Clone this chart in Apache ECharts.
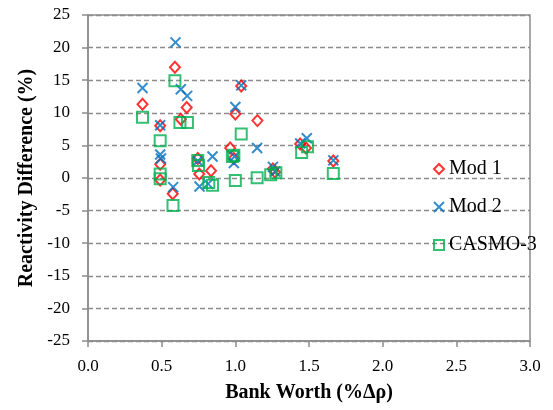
<!DOCTYPE html>
<html>
<head>
<meta charset="utf-8">
<script src="https://cdn.jsdelivr.net/npm/echarts@6/dist/echarts.min.js"></script>
<style>
  html, body { margin: 0; padding: 0; background: #fff; }
  #chart { width: 553px; height: 410px; }
</style>
</head>
<body>
<div id="chart"></div>
<script>
// Reactivity difference versus bank worth, three calculation methods
const seriesNames = ['Mod 1', 'Mod 2', 'CASMO-3'];

// [bank worth (%Δρ), reactivity difference (%)]
const mod1Points = [
  [0.37, 11.3], [0.49, 8.0], [0.49, 2.1], [0.49, -0.3], [0.575, -2.4],
  [0.59, 17.0], [0.63, 9.0], [0.67, 10.8], [0.745, 3.0], [0.755, 0.6],
  [0.835, 1.1], [0.965, 4.6], [0.99, 3.0], [1.0, 9.8], [1.04, 14.1],
  [1.15, 8.8], [1.255, 1.4], [1.27, 0.9], [1.44, 5.2], [1.48, 4.6],
  [1.665, 2.6]
];
const mod2Points = [
  [0.37, 13.8], [0.49, 8.1], [0.49, 3.6], [0.495, 3.0], [0.578, -1.4],
  [0.594, 20.8], [0.63, 13.6], [0.673, 12.6], [0.745, 2.6], [0.757, -1.3],
  [0.815, -0.9], [0.845, 3.3], [0.99, 2.3], [0.995, 3.3], [1.0, 10.9],
  [1.04, 14.2], [1.148, 4.6], [1.255, 1.7], [1.27, 1.0], [1.44, 5.3],
  [1.485, 6.1], [1.665, 2.7]
];
const casmoPoints = [
  [0.37, 9.3], [0.49, 5.7], [0.49, 0.6], [0.49, -0.1], [0.577, -4.2],
  [0.59, 14.9], [0.624, 8.5], [0.675, 8.5], [0.745, 2.7], [0.75, 1.9],
  [0.82, -0.7], [0.845, -1.1], [0.98, 3.3], [0.99, 3.5], [1.0, -0.4],
  [1.04, 6.75], [1.148, 0.05], [1.24, 0.5], [1.275, 0.8], [1.45, 3.9],
  [1.49, 4.8], [1.665, 0.7]
];

const xTicks = { min: 0, max: 3, step: 0.5 };
const yTicks = { min: -25, max: 25, step: 5 };

const serif = "'Liberation Serif', 'Times New Roman', serif";
const frameGray = '#8c8c8c';
const crossPath = 'path://M0,0L10,10M10,0L0,10';

const chart = echarts.init(document.getElementById('chart'), null, { renderer: 'canvas' });

chart.setOption({
  animation: false,
  backgroundColor: '#ffffff',
  grid: {
    left: 88, right: 23, top: 15, bottom: 69,
    show: true, borderColor: frameGray, borderWidth: 1.5, backgroundColor: 'transparent'
  },
  legend: {
    orient: 'vertical',
    left: 428, top: 154,
    itemWidth: 10, itemHeight: 10, itemGap: 18,
    textStyle: { fontFamily: serif, fontSize: 20, color: '#000' },
    data: seriesNames
  },
  xAxis: {
    type: 'value',
    min: xTicks.min, max: xTicks.max, interval: xTicks.step,
    name: 'Bank Worth (%Δρ)',
    nameLocation: 'middle', nameGap: 42,
    nameTextStyle: { fontFamily: serif, fontSize: 20, fontWeight: 'bold', color: '#000' },
    axisLine: { show: true, onZero: false, lineStyle: { color: frameGray, width: 1.5 } },
    axisTick: { show: true, inside: false, length: 6, lineStyle: { color: frameGray, width: 1.5 } },
    axisLabel: {
      fontFamily: serif, fontSize: 17, color: '#000', margin: 17,
      formatter: v => v.toFixed(1)
    },
    splitLine: { show: false }
  },
  yAxis: {
    type: 'value',
    min: yTicks.min, max: yTicks.max, interval: yTicks.step,
    name: 'Reactivity Difference (%)',
    nameLocation: 'middle', nameGap: 51, nameRotate: 90,
    nameTextStyle: { fontFamily: serif, fontSize: 20, fontWeight: 'bold', color: '#000' },
    axisLine: { show: true, onZero: false, lineStyle: { color: frameGray, width: 1.5 } },
    axisTick: { show: true, inside: false, length: 6, lineStyle: { color: frameGray, width: 1.5 } },
    axisLabel: { fontFamily: serif, fontSize: 17, color: '#000', margin: 18 },
    splitLine: { show: true, lineStyle: { color: frameGray, width: 1.3, type: [5, 3] } }
  },
  series: [
    {
      name: seriesNames[0], type: 'scatter', data: mod1Points,
      symbol: 'diamond', symbolSize: [10, 11],
      itemStyle: { color: 'rgba(255,255,255,0)', borderColor: '#ff0000', borderWidth: 2 }
    },
    {
      name: seriesNames[1], type: 'scatter', data: mod2Points,
      symbol: crossPath, symbolSize: 10,
      itemStyle: { color: 'rgba(255,255,255,0)', borderColor: '#0070c0', borderWidth: 2 }
    },
    {
      name: seriesNames[2], type: 'scatter', data: casmoPoints,
      symbol: 'rect', symbolSize: 11,
      itemStyle: { color: 'rgba(255,255,255,0)', borderColor: '#00b050', borderWidth: 2 }
    }
  ]
});
</script>
</body>
</html>
